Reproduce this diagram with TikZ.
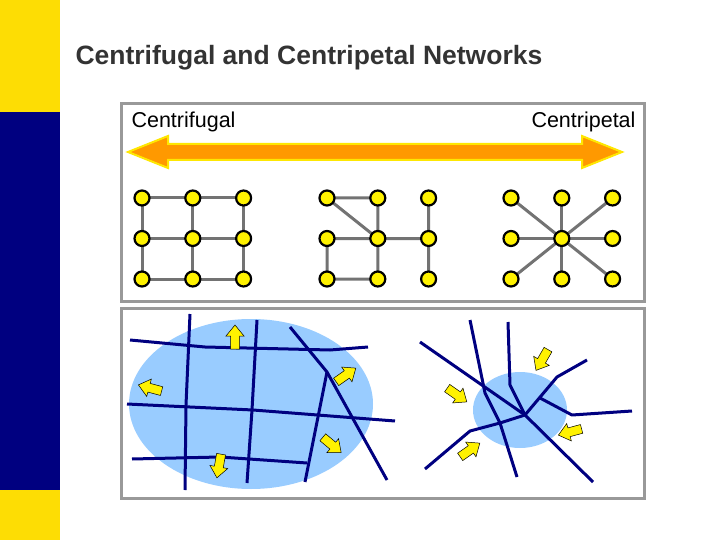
\documentclass[tikz,border=0pt]{standalone}
\usepackage{fontspec}
\setmainfont{Liberation Sans}
\definecolor{lblue}{HTML}{99CCFF}
\definecolor{navyc}{HTML}{000080}
\begin{document}
\begin{tikzpicture}[x=1pt,y=-1pt,
  edge/.style={draw=gray!90!black,line width=3pt},
  vtx/.style={circle,fill=yellow,draw=black,line width=2.2pt,minimum size=15pt,inner sep=0pt},
  road/.style={draw=navyc,line width=3pt,line join=round},
  blk/.style={fill=yellow,draw=black,line width=0.5pt},
  frame/.style={draw=gray!80,line width=3pt}]
\useasboundingbox (0,0) rectangle (720,540);
\fill[yellow!80!orange] (0,0) rectangle (60,540);
\fill[navyc] (0,112) rectangle (60,490);
\node[anchor=west,text=black!80,font=\bfseries\fontsize{26.5}{30}\selectfont] (title) at (72,58) {Centrifugal and Centripetal Networks};
\node[frame,minimum width=523pt,minimum height=198pt,anchor=north west,inner sep=0pt] (top) at (120,102) {};
\node[frame,minimum width=523pt,minimum height=190pt,anchor=north west,inner sep=0pt] (bot) at (120,307) {};
\node[anchor=west,font=\fontsize{21.5}{24}\selectfont] (l1) at (128,122) {Centrifugal};
\node[anchor=east,font=\fontsize{21.5}{24}\selectfont] (l2) at (639,122) {Centripetal};
\fill[orange!80!yellow,draw=yellow!90!orange,line width=2pt]
 (128,152) -- (168,136) -- (168,144) -- (582,144) -- (582,136) -- (622,152) -- (582,168) -- (582,160) -- (168,160) -- (168,168) -- cycle;
\foreach \g/\xo in {a/142,b/327,c/511}{
 \foreach \i in {0,1,2}{\foreach \j in {0,1,2}{
  \coordinate (\g\i\j) at ({\xo+\i*50.8},{198+\j*40.5});}}}
\path[edge] (a00)--(a10)--(a20) (a01)--(a11)--(a21) (a02)--(a12)--(a22)
 (a00)--(a01)--(a02) (a10)--(a11)--(a12) (a20)--(a21)--(a22);
\path[edge] (b00)--(b10) (b00)--(b11) (b10)--(b11) (b20)--(b21)--(b22) (b01)--(b11)--(b21)
 (b01)--(b02)--(b12)--(b11);
\foreach \n in {00,10,20,01,21,02,12,22}{\path[edge] (c11)--(c\n);}
\foreach \g in {a,b,c}{\foreach \i in {0,1,2}{\foreach \j in {0,1,2}{
  \node[vtx] (n\g\i\j) at (\g\i\j) {};}}}
\fill[lblue] (251,404) ellipse (122 and 85);
\fill[lblue] (520,410) ellipse (47 and 38);
\path[road] (130,340)--(205,347)--(330,350)--(368,347);
\path[road] (190,314)--(186,405)--(185,490);
\path[road] (257,320)--(252,410)--(247,483);
\path[road] (290,327)--(327,372)--(387,480);
\path[road] (327,372)--(305,482);
\path[road] (127,404)--(253,410)--(395,421);
\path[road] (132,459)--(220,457)--(307,463);
\path[road] (420,342)--(525,415)--(593,482);
\path[road] (470,320)--(485,393)--(500,423)--(517,477);
\path[road] (508,322)--(510,385)--(525,415);
\path[road] (525,415)--(557,377)--(587,360);
\path[road] (540,398)--(572,415)--(632,411);
\path[road] (525,415)--(500,423)--(470,431)--(425,469);
\foreach \x/\y/\a in {235/337/90,150/388/165,346/375/35,332/445/-40,219/466/-100,
  542/360/-120,457/395/-35,570/432/195,470/450/35}{
 \fill[blk,shift={(\x,\y)},rotate=\a] (-12,-4.5)--(1,-4.5)--(1,-9)--(12,0)--(1,9)--(1,4.5)--(-12,4.5)--cycle;}
\end{tikzpicture}
\end{document}
